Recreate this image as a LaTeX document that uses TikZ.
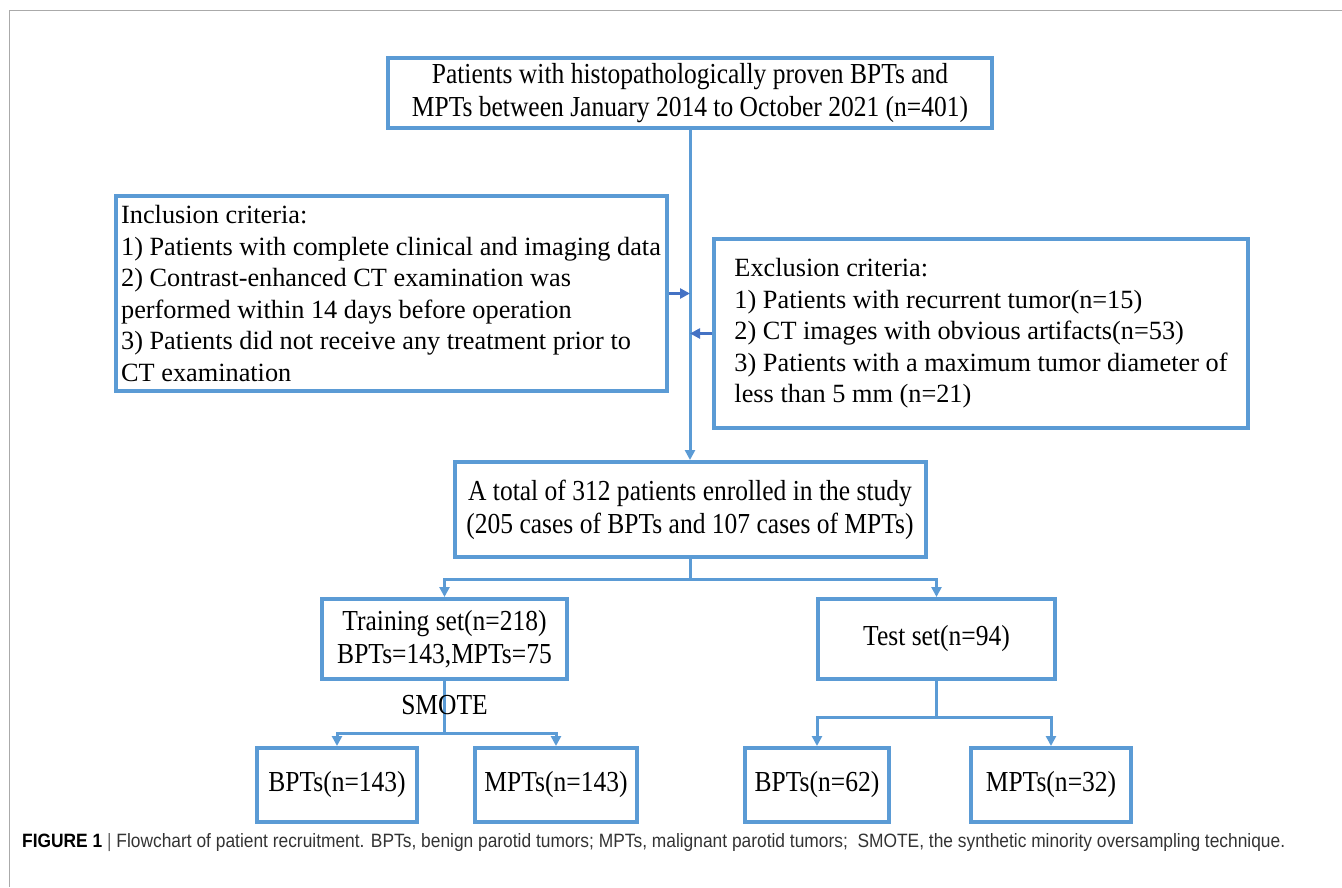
\documentclass[tikz,border=0pt]{standalone}
\usepackage{fontspec}
\setmainfont{Liberation Serif}
\newfontfamily\narrowserif[FakeStretch=0.88]{Liberation Serif}
\newfontfamily\capfont[FakeStretch=0.9]{Liberation Sans}
\usetikzlibrary{arrows.meta}
\definecolor{boxblue}{RGB}{91,155,213}
\definecolor{arrowblue}{RGB}{68,114,196}
\definecolor{framegray}{RGB}{170,170,170}

\begin{document}
\begin{tikzpicture}[x=1pt,y=-1pt,
  box/.style={draw=boxblue,line width=4pt,inner sep=0pt,align=center,
    font=\narrowserif\fontsize{29}{33}\selectfont},
  crit/.style={box,align=left,font=\fontsize{26.3}{31.5}\selectfont},
  link/.style={draw=boxblue,line width=3pt},
  arr/.style={link,-{Triangle[length=10pt,width=10pt]}},
  sidearr/.style={draw=arrowblue,line width=3pt,-{Triangle[length=10pt,width=10pt]}}]
  \useasboundingbox (0,0) rectangle (1342,887);
  \draw[framegray,line width=1.5pt] (1342,10.5) -- (9.5,10.5) -- (9.5,887);

  \node[box,minimum width=604pt,minimum height=70pt] (src) at (690,93)
    {Patients with histopathologically proven BPTs and\\MPTs between January 2014 to October 2021 (n=401)};
  \node[crit,minimum width=551pt,minimum height=195pt] (incl) at (391,293.5)
    {Inclusion criteria:\\1) Patients with complete clinical and imaging data\\2) Contrast-enhanced CT examination was\\performed within 14 days before operation\\3) Patients did not receive any treatment prior to\\CT examination};
  \node[crit,minimum width=534pt,minimum height=189pt] (excl) at (981,333.5)
    {Exclusion criteria:\\1) Patients with recurrent tumor(n=15)\\2) CT images with obvious artifacts(n=53)\\3) Patients with a maximum tumor diameter of\\less than 5 mm (n=21)};
  \node[box,minimum width=471pt,minimum height=95pt] (total) at (690,509.5)
    {A total of 312 patients enrolled in the study\\(205 cases of BPTs and 107 cases of MPTs)};
  \node[box,minimum width=245pt,minimum height=80pt] (train) at (444.5,639)
    {Training set(n=218)\\BPTs=143,MPTs=75};
  \node[box,minimum width=237pt,minimum height=80pt] (test) at (936.5,639) {Test set(n=94)};
  \node[box,minimum width=160pt,minimum height=74pt] (trainb) at (337,785) {BPTs(n=143)};
  \node[box,minimum width=162pt,minimum height=74pt] (trainm) at (556,785) {MPTs(n=143)};
  \node[box,minimum width=144pt,minimum height=74pt] (testb) at (817,785) {BPTs(n=62)};
  \node[box,minimum width=160pt,minimum height=74pt] (testm) at (1051,785) {MPTs(n=32)};

  \draw[arr] (src.south) -- (total.north);
  \draw[sidearr] (incl.east) -- (incl.east -| src.south);
  \draw[sidearr] (excl.west) -- (excl.west -| src.south);
  \draw[arr] (total.south) -- ++(0,20) -| (train.north);
  \draw[arr] (total.south) -- ++(0,20) -| (test.north);
  \draw[arr] (train.south) -- ++(0,52) -| (trainb.north);
  \draw[arr] (train.south) -- ++(0,52) -| (trainm.north);
  \draw[arr] (test.south) -- ++(0,36) -| (testb.north);
  \draw[arr] (test.south) -- ++(0,36) -| (testm.north);
  \node[inner sep=0pt,font=\narrowserif\fontsize{29}{31}\selectfont] (smote) at (444.5,705) {SMOTE};

  \node[anchor=west,inner sep=0pt,text=black!80,font=\capfont\fontsize{19.3}{21}\selectfont] (cap) at (22,843)
    {\textcolor{black}{\textbf{FIGURE 1}} \textcolor{black!60}{|} Flowchart of patient recruitment. BPTs, benign parotid tumors; MPTs, malignant parotid tumors;~ SMOTE, the synthetic minority oversampling technique.};
\end{tikzpicture}
\end{document}
